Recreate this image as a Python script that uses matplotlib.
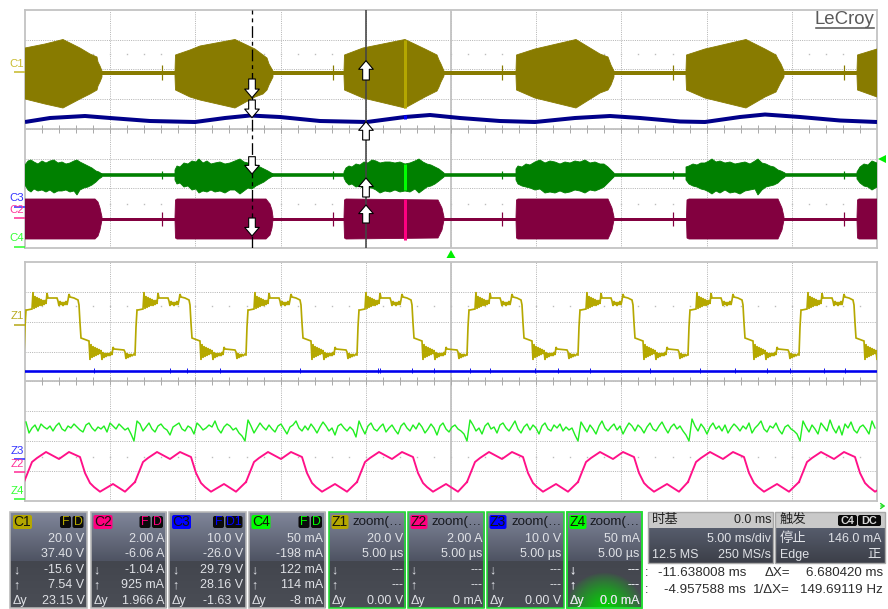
import numpy as np
import matplotlib
matplotlib.use("Agg")
import matplotlib.pyplot as plt
from matplotlib.patches import FancyBboxPatch, Rectangle

plt.rcParams['font.family'] = ['Liberation Sans', 'Noto Sans CJK SC', 'DejaVu Sans']

# ---------- readings from the screen (x = raster column, y = raster row) ----------
C1_BURSTS = [
    ([25, 45, 63, 80, 90, 97, 98, 100, 102], [48, 44, 39.5, 48, 54, 57, 62, 66, 71],
     [99, 104, 108, 99, 94, 90, 86, 82, 77]),
    ([175, 175.5, 190, 200, 235, 255, 263, 267, 269, 273], [71, 55, 50, 46, 39.5, 49, 55, 58, 64, 71],
     [76, 90, 97, 100, 108, 97, 94, 90, 85, 77]),
    ([344, 344.5, 363, 405, 425, 437, 439, 441, 444], [71, 55, 48, 39.5, 49, 55, 60, 64, 71],
     [76, 90, 98, 108, 97, 91, 87, 82, 76]),
    ([516, 516.5, 535, 576, 600, 608, 611, 614], [71, 55, 49, 39.5, 54, 57, 65, 71],
     [76, 90, 98, 108, 93, 90, 85, 77]),
    ([686, 686.5, 705, 746, 765, 776, 778, 781, 784], [71, 55, 49, 39.5, 49, 55, 59, 64, 71],
     [76, 90, 98, 108, 97, 92, 88, 82, 77]),
    ([857, 857.5, 877], [71, 55, 49], [76, 90, 97]),
]
C1_BASE_ROW = 73.5
SPIKE_COLS = [162, 333, 502, 673, 844]
C1_SPIKE = (65, 80)
C2_SPIKE = (212, 226)
C4_SPIKE = (171, 179)

C3_X = [25, 50, 85, 110, 150, 195, 225, 250, 280, 320, 367, 405, 430, 460, 500, 535,
        575, 610, 640, 680, 705, 740, 765, 800, 840, 877]
C3_Y = [122, 118, 116, 118, 121, 122, 118, 115.5, 117, 121, 122, 117, 115, 118, 121, 122,
        118, 116, 118, 121.5, 122, 117, 114.5, 117, 120.5, 122]

C4_BURSTS = [
    ([25, 28, 31, 34, 38, 42, 46, 50, 54, 58, 62, 66, 70, 74, 77, 80, 84, 88, 92, 96, 99, 102],
     [165, 161, 160, 162, 164, 161, 163, 161, 160, 163, 162, 164, 163, 161, 160, 162, 164, 166, 168, 171, 172, 174],
     [185, 190, 192, 189, 191, 190, 192, 190, 193, 191, 191, 190, 192, 191, 195, 190, 188, 187, 185, 182, 179, 177]),
    ([175, 177, 180, 184, 188, 192, 196, 199, 203, 207, 211, 215, 220, 225, 230, 235, 240, 244, 248, 252, 256, 260, 264, 268, 273],
     [170, 166, 167, 163, 164, 161, 162, 159, 163, 161, 164, 163, 162, 164, 163, 161, 159, 162, 163, 163, 165, 167, 169, 171, 174],
     [180, 184, 183, 187, 186, 190, 189, 193, 191, 192, 190, 192, 191, 193, 190, 190, 194, 191, 188, 189, 186, 184, 182, 179, 176]),
    ([344, 346, 349, 352, 356, 360, 364, 368, 372, 376, 380, 385, 390, 395, 400, 405, 410, 415, 419, 423, 427, 431, 435, 439, 444],
     [172, 168, 166, 167, 164, 165, 162, 163, 160, 161, 163, 162, 162, 163, 162, 164, 163, 161, 159, 162, 164, 165, 167, 169, 173],
     [178, 182, 185, 184, 187, 186, 189, 188, 188, 190, 193, 191, 192, 190, 192, 191, 192, 189, 193, 190, 187, 186, 184, 181, 177]),
    ([516, 518, 522, 526, 530, 535, 540, 545, 550, 555, 560, 565, 570, 575, 580, 585, 590, 595, 600, 604, 608, 611, 614],
     [169, 166, 167, 164, 165, 162, 160, 163, 161, 162, 164, 162, 163, 161, 162, 160, 163, 162, 164, 164, 167, 170, 173],
     [180, 184, 186, 187, 188, 190, 189, 193, 192, 193, 191, 193, 192, 190, 191, 193, 190, 191, 189, 187, 183, 180, 177]),
    ([686, 689, 693, 697, 701, 705, 709, 712, 716, 720, 725, 730, 735, 740, 745, 750, 755, 758, 762, 766, 770, 774, 778, 781, 785],
     [167, 166, 164, 165, 163, 163, 161, 159, 162, 161, 163, 162, 164, 163, 162, 164, 161, 159, 163, 164, 166, 167, 170, 171, 173],
     [180, 184, 186, 187, 189, 190, 192, 194, 191, 193, 190, 193, 192, 194, 191, 190, 189, 195, 190, 187, 186, 185, 183, 180, 177]),
    ([857, 860, 864, 868, 872, 877], [172, 167, 164, 165, 161, 163], [179, 183, 186, 187, 190, 187]),
]
C4_BASE_ROW = 175

C2_BURSTS = [
    ([25, 95, 98, 100, 102], [199, 199, 202, 208, 217], [239, 239, 236, 230, 220]),
    ([175, 175.5, 177, 266, 270, 272, 273], [217, 200, 199, 199, 204, 210, 217], [220, 238, 239, 239, 235, 228, 220]),
    ([344, 344.5, 346, 438, 442, 444], [217, 200, 199, 200, 208, 217], [220, 238, 239, 238, 230, 220]),
    ([516, 516.5, 518, 608, 612, 614], [217, 200, 199, 199, 208, 217], [220, 238, 239, 239, 230, 220]),
    ([686.5, 687, 689, 778, 782, 784], [217, 200, 199, 199, 208, 217], [220, 238, 239, 239, 230, 220]),
    ([857, 857.5, 859, 877], [217, 200, 199, 199], [220, 238, 239, 239]),
]
C2_BASE_ROW = 219

CURSOR_A_COL = 252
CURSOR_B_COL = 366
CURSOR_A_ARROWS = [(79, 97.7), (100, 117.7), (156.7, 174), (218, 236)]
CURSOR_B_ARROWS = [(80, 60.7), (140, 121.7), (197, 178), (223, 205)]
HILITE_COL = 405

# rising-edge columns of each zoomed cycle
ZOOM_EDGE_COLS = [24, 135, 246, 357, 467, 578, 688, 799]

Z1_DX = [0, 1, 2, 3, 8, 9, 10, 11, 12, 13, 14, 15, 16, 17, 18, 19, 20, 21, 22, 23, 24, 33, 34, 35, 36, 37, 38, 39,
         40, 41, 42, 43, 44, 45, 46, 50, 54, 55, 56, 57, 65, 66, 67, 68, 69, 70, 71, 72, 73, 74, 75, 76, 77, 78,
         79, 80, 81, 82, 83, 84, 85, 86, 87, 88, 89, 90, 100, 101, 102, 103, 104, 105, 106, 107, 108, 110]
Z1_Y = [355, 327, 310, 310, 309, 292, 309, 296, 308, 297, 307, 298, 306, 299, 306, 300, 305, 300, 304, 293, 298, 298,
        301, 306, 301, 305, 302, 306, 302, 305, 301, 305, 300, 294, 297, 298, 300, 305, 323, 338, 341, 360, 344, 358,
        346, 357, 347, 356, 348, 355, 349, 354, 350, 360, 352, 358, 353, 357, 353, 356, 353, 356, 352, 355, 347, 349,
        350, 352, 359, 353, 358, 354, 357, 354, 356, 354]

Z2_DX = [0, 4, 8, 13, 22, 35, 45, 56, 61, 66, 70, 76, 89, 101]
Z2_Y = [482, 472, 462, 458, 452, 459, 452, 457, 473, 483, 487, 491.7, 484, 491.7]

Z3_ROW = 371
Z3_BLIPS = [94, 170, 187, 220, 300, 378, 380, 412, 434, 470, 490, 535, 558, 590, 650, 700, 735, 767, 790, 824, 845]

Z4_START = 26
Z4_STEP = 3
Z4_Y = [
    422, 433, 428, 425, 431, 424, 427, 429, 426, 431, 426, 423, 429, 431, 426, 428, 424, 427, 430, 432, 425, 423, 428, 431, 427, 429, 426, 432, 423, 426, 429, 424, 427, 430, 428, 434, 441,
    421, 424, 431, 427, 423, 429, 432, 426, 424, 428, 430, 435, 427, 425, 423, 429, 431, 426, 428, 434, 423, 426, 430, 428, 425, 427, 421, 429, 433, 427, 424, 426, 430, 428, 433, 436, 441,
    420, 426, 433, 428, 423, 427, 430, 425, 429, 432, 426, 424, 429, 434, 427, 425, 421, 428, 431, 426, 430, 424, 428, 433, 427, 422, 426, 431, 428, 435, 426, 424, 428, 431, 427, 430, 437,
    421, 428, 434, 426, 423, 429, 431, 427, 424, 432, 428, 425, 430, 434, 426, 423, 428, 431, 425, 429, 423, 427, 433, 429, 424, 428, 435, 426, 423, 429, 432, 427, 425, 429, 431, 434, 441,
    420, 425, 431, 428, 434, 426, 423, 429, 427, 433, 425, 423, 428, 431, 426, 421, 429, 433, 427, 424, 430, 425, 428, 434, 426, 423, 429, 431, 425, 428, 424, 431, 427, 430, 428, 435, 441,
    422, 427, 432, 425, 429, 434, 426, 421, 428, 431, 427, 424, 430, 426, 434, 428, 423, 426, 431, 425, 428, 433, 427, 423, 429, 431, 426, 422, 428, 433, 427, 424, 429, 426, 431, 435, 441,
    419, 426, 431, 424, 428, 434, 427, 423, 429, 426, 431, 425, 433, 428, 424, 427, 431, 426, 429, 423, 433, 428, 425, 421, 429, 432, 426, 428, 423, 430, 434, 427, 425, 429, 431, 434, 441,
    421, 427, 432, 425, 429, 434, 423, 427, 431, 420, 428, 433, 426, 435, 424, 428, 422, 430, 433, 427, 425, 429, 434, 421, 428,
]

CH_NAMES = ['C1', 'C2', 'C3', 'C4']
CH_COLORS = ['#b4a700', '#ff0080', '#0000ff', '#00ff00']
CH_ROWS = [
    ['20.0 V', '37.40 V', '-15.6 V', '7.54 V', '23.15 V'],
    ['2.00 A', '-6.06 A', '-1.04 A', '925 mA', '1.966 A'],
    ['10.0 V', '-26.0 V', '29.79 V', '28.16 V', '-1.63 V'],
    ['50 mA', '-198 mA', '122 mA', '114 mA', '-8 mA'],
]
CH_FLAGS = [['F', 'D'], ['F', 'D'], ['F', 'D1'], ['F', 'D']]
ZOOM_NAMES = ['Z1', 'Z2', 'Z3', 'Z4']
ZOOM_ROWS = [
    ['20.0 V', '5.00 µs', '---', '---', '0.00 V'],
    ['2.00 A', '5.00 µs', '---', '---', '0 mA'],
    ['10.0 V', '5.00 µs', '---', '---', '0.00 V'],
    ['50 mA', '5.00 µs', '---', '---', '0.0 mA'],
]

# ---------- figure ----------
PX = 0.72
fig = plt.figure(figsize=(8.88, 6.09), dpi=100, facecolor='white')
W, H = 888.0, 609.0


def panel_axes(left, right, top, bottom):
    ax = fig.add_axes([left / W, 1 - bottom / H, (right - left) / W, (bottom - top) / H])
    ax.set_xlim(left, right)
    ax.set_ylim(bottom, top)
    ax.set_xticks(np.linspace(left, right, 11)[1:-1])
    ax.set_yticks(np.linspace(top, bottom, 9)[1:-1])
    ax.tick_params(length=0, labelbottom=False, labelleft=False)
    ax.grid(True, color='#b6b6b6', lw=1.0 * PX, ls=(0, (1, 1.2)), zorder=0)
    ax.set_axisbelow(True)
    for s in ax.spines.values():
        s.set_color('#c2c2c2')
        s.set_linewidth(1.8 * PX)
    xc = (left + right) / 2
    yc = (top + bottom) / 2
    ax.axvline(xc, color='#c2c2c2', lw=1.8 * PX, zorder=1)
    ax.axhline(yc, color='#c0c0c0', lw=1.8 * PX, zorder=1)
    minor = np.linspace(left, right, 51)[1:-1]
    ax.plot(minor, np.full(minor.size, yc), ls='none', marker='|', ms=6 * PX * 1.2,
            mew=1.0 * PX, color='#ababab', zorder=1)
    for row in (top + (yc - top) * 0.37, bottom - (bottom - yc) * 0.37):
        ax.plot(minor, np.full(minor.size, row), ls='none', marker='s', ms=1.0, mew=0,
                color='#bdbdbd', zorder=1)
    return ax


top = panel_axes(25, 877, 10, 248)
zoom = panel_axes(25, 877, 262, 501)


def draw_bursts(ax, bursts, color):
    for xs, up, lo in bursts:
        ax.fill(list(xs) + list(xs)[::-1], list(up) + list(lo)[::-1], color=color, lw=0.6, zorder=3)


C1_COLOR = '#887b00'
C2_COLOR = '#82003f'
C3_COLOR = '#00008a'
C4_COLOR = '#008000'

top.axhline(C1_BASE_ROW, color=C1_COLOR, lw=4 * PX, zorder=2)
top.axhline(C4_BASE_ROW, color=C4_COLOR, lw=3.6 * PX, zorder=2)
top.axhline(C2_BASE_ROW, color=C2_COLOR, lw=3 * PX, zorder=2)
draw_bursts(top, C1_BURSTS, C1_COLOR)
draw_bursts(top, C4_BURSTS, C4_COLOR)
draw_bursts(top, C2_BURSTS, C2_COLOR)
top.vlines(SPIKE_COLS, *C1_SPIKE, color=C1_COLOR, lw=1.2 * PX, zorder=3)
top.vlines(SPIKE_COLS, *C2_SPIKE, color=C2_COLOR, lw=1.2 * PX, zorder=3)
top.vlines(SPIKE_COLS, *C4_SPIKE, color=C4_COLOR, lw=1.2 * PX, zorder=3)
top.plot(C3_X, C3_Y, color=C3_COLOR, lw=4 * PX, zorder=3, solid_capstyle='butt')

top.vlines(HILITE_COL, 40, 108, color='#b4a700', lw=3 * PX, zorder=4)
top.vlines(HILITE_COL, 115, 119, color='#0000ff', lw=3 * PX, zorder=4)
top.vlines(HILITE_COL, 164, 190, color='#00ff00', lw=3 * PX, zorder=4)
top.vlines(HILITE_COL, 199, 240, color='#ff0080', lw=3 * PX, zorder=4)

top.axvline(CURSOR_A_COL, color='black', lw=1.3 * PX, ls=(0, (9, 3, 3, 3)), zorder=5)
top.axvline(CURSOR_B_COL, color='#444444', lw=1.6 * PX, zorder=5)
for col, arrows in ((CURSOR_A_COL, CURSOR_A_ARROWS), (CURSOR_B_COL, CURSOR_B_ARROWS)):
    for start, tip in arrows:
        top.annotate('', xy=(col, tip), xytext=(col, start), annotation_clip=False, zorder=6,
                     arrowprops=dict(arrowstyle='simple,head_length=0.62,head_width=1.05,tail_width=0.48',
                                     mutation_scale=10, fc='white', ec='black', lw=0.8, shrinkA=0, shrinkB=0))
top.text(874, 19.5, 'LeCroy', ha='right', va='center', fontsize=13.4, color='#5a5a5a', zorder=7)
top.plot([816, 874], [28.5, 28.5], color='#5a5a5a', lw=1.6 * PX, zorder=7)

# zoom traces
for i, edge in enumerate(ZOOM_EDGE_COLS):
    end = ZOOM_EDGE_COLS[i + 1] if i + 1 < len(ZOOM_EDGE_COLS) else 911
    zoom.plot(edge + np.array(Z1_DX), Z1_Y, color='#b5a800', lw=1.7 * PX, zorder=3, solid_joinstyle='miter')
    zoom.plot(np.r_[edge + np.array(Z2_DX), end], Z2_Y + [Z2_Y[0]], color='#ff1088', lw=1.9 * PX, zorder=3)
zoom.axhline(Z3_ROW, color='#0000ee', lw=2.6 * PX, zorder=3)
zoom.vlines(Z3_BLIPS, Z3_ROW - 2.5, Z3_ROW + 2.5, color='#0000ee', lw=0.9 * PX, zorder=3)
zoom.plot(Z4_START + Z4_STEP * np.arange(len(Z4_Y)), Z4_Y, color='#22ee22', lw=1.4 * PX, zorder=3)

# ---------- overlay in raster coordinates ----------
ui = fig.add_axes([0, 0, 1, 1], zorder=10)
ui.set_xlim(0, W)
ui.set_ylim(H, 0)
ui.axis('off')
ui.patch.set_alpha(0)


def txt(x, y, s, color='#dfe1e6', ha='right', size=9.0, **kw):
    ui.text(x, y, s, color=color, ha=ha, va='center', fontsize=size, **kw)


def grad(x0, x1, y0, y1, c0, c1):
    c0 = np.array(matplotlib.colors.to_rgb(c0))
    c1 = np.array(matplotlib.colors.to_rgb(c1))
    t = np.linspace(0, 1, 32)[:, None, None]
    img = c0[None, None, :] * (1 - t) + c1[None, None, :] * t
    ui.imshow(img, extent=(x0, x1, y1, y0), aspect='auto', zorder=1, interpolation='bilinear')


def badge(x0, x1, y0, y1, color, zorder=3):
    ui.add_patch(FancyBboxPatch((x0 + 1, y0 + 1), x1 - x0 - 2, y1 - y0 - 2,
                                boxstyle='round,pad=1,rounding_size=2', fc=color, ec='none', zorder=zorder))


LABELS = [('C1', 17, 64, 72, '#c8bb30'), ('C3', 17, 198, 206.5, '#3333ff'), ('C2', 17, 210, 218, '#ff3399'),
          ('C4', 17, 238, 246.5, '#33ff33'), ('Z1', 17, 316, 325, '#b8ab20'), ('Z3', 17, 451, 459, '#3333ff'),
          ('Z2', 17, 464, 471.5, '#ff3399'), ('Z4', 17, 491, 499, '#33ff33')]
for name, x, y, ly, col in LABELS:
    txt(x, y, name, color=col, ha='center', size=8.2)
    ui.plot([14, 24.5], [ly, ly], color=col, lw=1.6 * PX, solid_capstyle='butt', zorder=3)

ui.fill([451, 446.5, 455.5], [250, 258, 258], color='#00ee00', lw=0, zorder=3)
ui.fill([878, 886, 886], [159, 155, 163], color='#00ee00', lw=0, zorder=3)
ui.annotate('', xy=(888, 506), xytext=(878, 506),
            arrowprops=dict(arrowstyle='->,head_length=0.25,head_width=0.18', color='#22dd22', lw=1))

PANEL_TOP, PANEL_SPLIT, PANEL_BOT = 512, 561, 608
ROW_Y = [539, 554, 570, 585, 601]


def channel_box(x0, x1, rows, edge, lab, lab_col, flags=None):
    grad(x0, x1, PANEL_TOP, PANEL_SPLIT, '#80869a', '#4f5463')
    grad(x0, x1, PANEL_SPLIT, PANEL_BOT, '#43464e', '#4a4d55')
    ui.add_patch(Rectangle((x0, PANEL_TOP), x1 - x0, PANEL_BOT - PANEL_TOP, fc='none', ec=edge, lw=1.6 * PX, zorder=4))
    badge(x0 + 3, x0 + 22 if flags else x0 + 20, PANEL_TOP + 3, PANEL_TOP + 17, lab_col)
    txt(x0 + 12.5 if flags else x0 + 11.5, PANEL_TOP + 10, lab, color='#14140a', ha='center', size=10, zorder=5)
    for y, s in zip(ROW_Y, rows):
        txt(x1 - 2, y, s, zorder=5)
    for y, s in zip(ROW_Y[2:], ['↓', '↑', 'Δy']):
        txt(x0 + 3, y, s, ha='left', size=9, zorder=5)


CH_SPANS = [(10, 86.5), (90.5, 166), (169, 245.5), (248.5, 325)]
for (x0, x1), rows, name, col, flags in zip(CH_SPANS, CH_ROWS, CH_NAMES, CH_COLORS, CH_FLAGS):
    channel_box(x0, x1, rows, '#b8b8b8', name, col, flags)
    right = x1 - 3
    for f in flags[::-1]:
        w = 11 if len(f) == 1 else 17
        badge(right - w, right, PANEL_TOP + 4, PANEL_TOP + 16, '#0a0a0a')
        txt(right - w / 2, PANEL_TOP + 10, f, color=col, ha='center', size=8.8, zorder=5)
        right -= w + 1.5

ZOOM_SPANS = [(328.5, 405), (407.5, 484), (486.5, 563.5), (566.5, 641.5)]
for (x0, x1), rows, name, col in zip(ZOOM_SPANS, ZOOM_ROWS, ZOOM_NAMES, CH_COLORS):
    channel_box(x0, x1, rows, '#22dd33', name, col)
    txt(x1 - 2, PANEL_TOP + 10, 'zoom(…', color='#16181e', size=9.6, zorder=5)

# glow in the last zoom box
gx, gy = np.meshgrid(np.linspace(566.5, 641.5, 76), np.linspace(561, 608, 48))
r = np.hypot((gx - 604) / 40, (gy - 610) / 38)
glow = np.zeros(gx.shape + (4,))
glow[..., 1] = 0.85
glow[..., 3] = np.clip(1 - r, 0, 1) ** 0.8
ui.imshow(glow, extent=(566.5, 641.5, 608, 561), aspect='auto', zorder=2)
ui.add_patch(Rectangle((566.5, PANEL_TOP), 75, PANEL_BOT - PANEL_TOP, fc='none', ec='#22dd33', lw=1.6 * PX, zorder=4))
for y, s in zip(ROW_Y[2:], ['---', '---', '0.0 mA']):
    txt(639.5, y, s, zorder=5)
for y, s in zip(ROW_Y[2:], ['↓', '↑', 'Δy']):
    txt(569.5, y, s, ha='left', size=9, zorder=5)

# timebase / trigger boxes
for x0, x1 in ((648, 773), (775, 885)):
    grad(x0, x1, 528, 563, '#565c6c', '#3c3f48')
    ui.add_patch(Rectangle((x0, 512), x1 - x0, 16, fc='#c9c9c9', ec='none', zorder=2))
    ui.add_patch(Rectangle((x0, 512), x1 - x0, 51, fc='none', ec='#a8a8a8', lw=1.4 * PX, zorder=4))
txt(652, 520, '时基', color='#222222', ha='left', size=9.6, zorder=5)
txt(771, 520, '0.0 ms', color='#222222', zorder=5)
txt(771, 539, '5.00 ms/div', zorder=5)
txt(652, 555, '12.5 MS', ha='left', zorder=5)
txt(771, 555, '250 MS/s', zorder=5)
txt(780, 520, '触发', color='#222222', ha='left', size=9.6, zorder=5)
for x0, x1, s in ((838, 857, 'C4'), (858, 881, 'DC')):
    badge(x0, x1, 515, 526, '#0a0a0a')
    txt((x0 + x1) / 2, 520.5, s, color='#d8d8d8', ha='center', size=7.8, weight='bold', zorder=5)
txt(780, 539, '停止', ha='left', size=9.6, zorder=5)
txt(881, 539, '146.0 mA', zorder=5)
txt(780, 555, 'Edge', ha='left', zorder=5)
txt(881, 555, '正', size=9.6, zorder=5)

DARK = '#2c2c2c'
txt(645, 572.5, ':', color=DARK, ha='left')
txt(645, 590, ':', color=DARK, ha='left')
txt(746, 572.5, '-11.638008 ms', color=DARK, size=9.6)
txt(746, 590, '-4.957588 ms', color=DARK, size=9.6)
txt(790, 572.5, 'ΔX=', color=DARK, size=9.6)
txt(790, 590, '1/ΔX=', color=DARK, size=9.6)
txt(883, 572.5, '6.680420 ms', color=DARK, size=9.6)
txt(883, 590, '149.69119 Hz', color=DARK, size=9.6)

ui.set_xlim(0, W)
ui.set_ylim(H, 0)
fig.savefig('out.png', dpi=100, facecolor='white')
